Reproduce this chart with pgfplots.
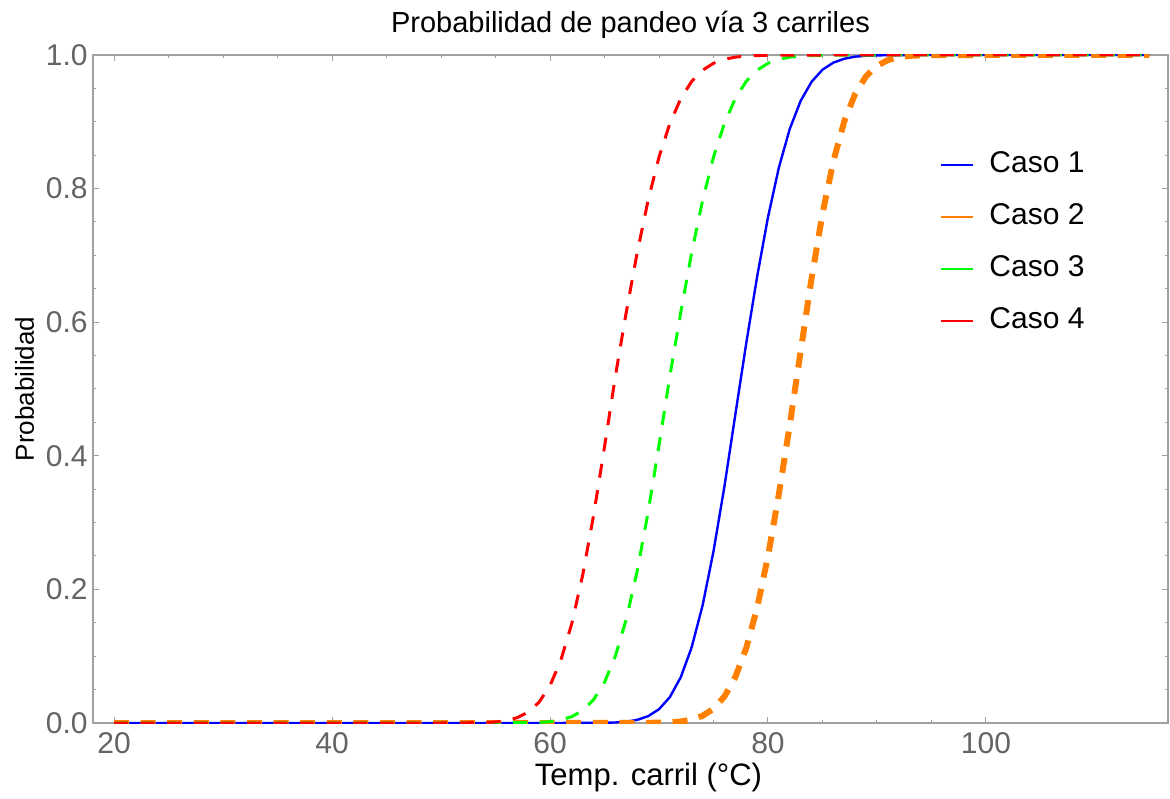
\documentclass[border=0pt]{standalone}
\usepackage{pgfplots}
\pgfplotsset{compat=1.18}
\usepackage{fontspec}
\setmainfont{Liberation Sans}
\definecolor{cblue}{RGB}{0,0,255}
\definecolor{corange}{RGB}{255,128,0}
\definecolor{cgreen}{RGB}{0,255,0}
\definecolor{cred}{RGB}{255,0,0}
\definecolor{framegray}{RGB}{160,160,160}
\definecolor{labgray}{RGB}{100,100,100}
\begin{document}
\begin{tikzpicture}
\begin{axis}[
  scale only axis,
  width=537.5pt, height=334pt,
  xmin=18.07, xmax=116.7, ymin=0, ymax=1,
  xtick={20,40,60,80,100},
  ytick={0,0.2,0.4,0.6,0.8,1.0},
  yticklabels={0.0,0.2,0.4,0.6,0.8,1.0},
  minor x tick num=3, minor y tick num=3,
  tick pos=both, tick align=inside,
  major tick length=3pt, minor tick length=1.6pt,
  every tick/.style={framegray, line width=0.5pt},
  axis line style={framegray, line width=0.6pt},
  xticklabel pos=lower, yticklabel pos=left,
  /pgf/number format/assume math mode=true,
  ticklabel style={font=\fontsize{15}{18}\selectfont, text=labgray},
  xticklabel style={anchor=base, inner sep=0pt, yshift=-15pt},
  yticklabel style={anchor=east, inner sep=0pt, xshift=-2.5pt},
  title={Probabilidad de pandeo vía 3 carriles},
  every axis title/.style={at={(axis description cs:0.5,1)}, anchor=base, yshift=11pt, font=\fontsize{14.5}{17}\selectfont},
  xlabel={Temp. carril (°C)},
  ylabel={Probabilidad},
  every axis x label/.style={at={(axis description cs:0.5,0)}, anchor=base, xshift=9pt, yshift=-31pt, font=\fontsize{15.5}{18}\selectfont},
  every axis y label/.style={at={(axis description cs:-0.0512,0.5)}, anchor=base, rotate=90, yshift=2pt, font=\fontsize{13}{16}\selectfont},
  legend style={at={(axis description cs:0.788,0.858)}, anchor=north west, draw=none, fill=none,
    inner sep=0pt, row sep=15pt, font=\fontsize{15}{18}\selectfont,
    nodes={inner sep=0pt, text height=11pt, text depth=0pt},
    /tikz/every odd column/.append style={column sep=7.5pt}},
  legend cell align=left,
  legend image code/.code={\draw[#1] (0pt,-2pt) -- (16pt,-2pt);},
]
% Caso 1
\addplot[cblue, line width=1.2pt, forget plot] coordinates {
(20,0) (60,0) (65,0.0003) (66,0.0008) (67,0.0020) (68,0.0047) (69,0.0102) (70,0.0206)
(71,0.0389) (72,0.0686) (73,0.1135) (74,0.1760) (75,0.2570) (76,0.3538) (77,0.4613)
(78,0.5679) (79,0.6679) (80,0.7572) (81,0.8317) (82,0.8895) (83,0.9315) (84,0.9599)
(85,0.9780) (86,0.9886) (87,0.9944) (88,0.9975) (89,0.9989) (91,0.9998) (95,1) (115,1)};
% Caso 2
\addplot[corange, line width=3pt, dash pattern=on 7.5pt off 5.8pt, forget plot] coordinates {
(20,0) (60,0) (70,0.0004) (71,0.0009) (72,0.0023) (73,0.0051) (74,0.0108) (75,0.0213)
(76,0.0395) (77,0.0686) (78,0.1120) (79,0.1721) (80,0.2496) (81,0.3427) (82,0.4463)
(83,0.5568) (84,0.6659) (85,0.7624) (86,0.8413) (87,0.9007) (88,0.9420) (89,0.9683)
(90,0.9839) (91,0.9924) (92,0.9967) (93,0.9987) (94,0.9995) (96,0.9999) (100,1) (115,1)};
% Caso 3
\addplot[cgreen, line width=1.5pt, dash pattern=on 7pt off 6.3pt, forget plot] coordinates {
(20,0) (50,0) (59,0.0008) (60,0.0020) (61,0.0045) (62,0.0095) (63,0.0188) (64,0.0349)
(65,0.0610) (66,0.1003) (67,0.1555) (68,0.2276) (69,0.3156) (70,0.4156) (71,0.5195)
(72,0.6152) (73,0.7043) (74,0.7823) (75,0.8472) (76,0.8976) (77,0.9348) (78,0.9605)
(79,0.9772) (80,0.9876) (81,0.9936) (82,0.9968) (83,0.9985) (85,0.9997) (90,1) (115,1)};
% Caso 4
\addplot[cred, line width=1.5pt, dash pattern=on 7pt off 6.3pt, forget plot] coordinates {
(20,0) (50,0) (54,0.0006) (55,0.0015) (56,0.0036) (57,0.0080) (58,0.0163) (59,0.0312)
(60,0.0560) (61,0.0943) (62,0.1489) (63,0.2215) (64,0.3110) (65,0.4133) (66,0.5195)
(67,0.6152) (68,0.7043) (69,0.7823) (70,0.8472) (71,0.8976) (72,0.9348) (73,0.9605)
(74,0.9772) (75,0.9876) (76,0.9936) (77,0.9968) (78,0.9985) (80,0.9997) (85,1) (115,1)};
\addlegendimage{cblue, line width=1pt}
\addlegendentry{Caso 1}
\addlegendimage{corange, line width=1pt}
\addlegendentry{Caso 2}
\addlegendimage{cgreen, line width=1pt}
\addlegendentry{Caso 3}
\addlegendimage{cred, line width=1pt}
\addlegendentry{Caso 4}
\end{axis}
\pgfresetboundingbox
\path ([xshift=-46.5pt,yshift=-38pt]current axis.south west) rectangle ([xshift=1pt,yshift=27.5pt]current axis.north east);
\end{tikzpicture}
\end{document}
